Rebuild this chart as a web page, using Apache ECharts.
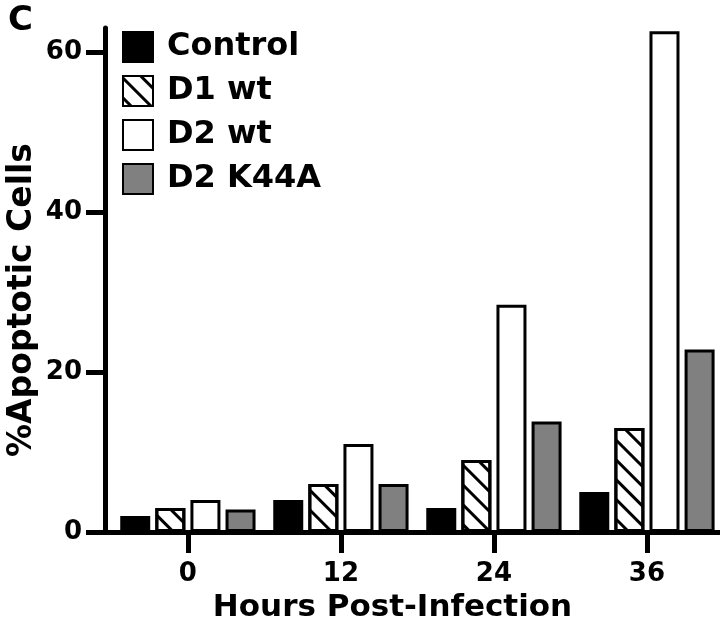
<!DOCTYPE html>
<html>
<head>
<meta charset="utf-8">
<script src="https://cdn.jsdelivr.net/npm/echarts@6/dist/echarts.min.js"></script>
<style>
html,body{margin:0;padding:0;background:#fff;}
#chart{width:720px;height:623px;}
</style>
</head>
<body>
<div id="chart"></div>
<script>
// Data
var hours = [0, 12, 24, 36];
var seriesNames = ['Control', 'D1 wt', 'D2 wt', 'D2 K44A'];
var control = [2, 4, 3, 5];
var d1wt = [3, 6, 9, 13];
var d2wt = [4, 11, 28.4, 62.6];
var d2k44a = [2.8, 6, 13.8, 22.8];
var yTicks = [0, 20, 40, 60];

var FONT = 'DejaVu Sans';
function pairs(vals) { return hours.map(function (h, i) { return [h, vals[i]]; }); }

var base = { borderColor: '#000', borderWidth: 3 };
var styles = [
  Object.assign({ color: '#000' }, base),
  Object.assign({ color: '#fff', decal: { symbol: 'rect', symbolSize: 1, dashArrayX: [1, 0], dashArrayY: [3, 11], rotation: Math.PI / 4, color: '#000' } }, base),
  Object.assign({ color: '#fff' }, base),
  Object.assign({ color: '#808080' }, base)
];
var values = [control, d1wt, d2wt, d2k44a];

var chart = echarts.init(document.getElementById('chart'), null, { renderer: 'canvas' });
chart.setOption({
  animation: false,
  backgroundColor: '#fff',
  title: {
    text: 'C', left: 3, top: -1,
    textStyle: { fontFamily: FONT, fontWeight: 'bold', fontSize: 34, color: '#000' }
  },
  legend: {
    orient: 'vertical', left: 122, top: 31, padding: 0,
    itemWidth: 30, itemHeight: 30, itemGap: 12,
    icon: 'rect',
    data: seriesNames,
    textStyle: { fontFamily: FONT, fontWeight: 'bold', fontSize: 32, color: '#000', padding: [0, 0, 0, 9] }
  },
  grid: { left: 105, right: 0, top: 28, bottom: 91, containLabel: false, outerBoundsMode: 'none' },
  xAxis: {
    type: 'value', min: -6.5, max: 41.73,
    name: 'Hours Post-Infection', nameLocation: 'middle', nameGap: 60,
    nameTextStyle: { fontFamily: FONT, fontWeight: 'bold', fontSize: 31, color: '#000', padding: [0, 40, 0, 0] },
    axisLine: { show: true, onZero: false, lineStyle: { color: '#000', width: 5 } },
    axisTick: { show: true, customValues: hours, length: 21, lineStyle: { color: '#000', width: 5 } },
    axisLabel: { customValues: hours, margin: 29, fontFamily: FONT, fontWeight: 'bold', fontSize: 26, color: '#000' },
    splitLine: { show: false }
  },
  yAxis: {
    type: 'value', min: 0, max: 63,
    name: '%Apoptotic Cells', nameLocation: 'middle', nameGap: 66, nameMoveOverlap: false,
    nameTextStyle: { fontFamily: FONT, fontWeight: 'bold', fontSize: 33, color: '#000', padding: [0, 40, 0, 0] },
    axisLine: { show: true, onZero: false, lineStyle: { color: '#000', width: 5 } },
    axisTick: { show: true, customValues: yTicks, length: 19, lineStyle: { color: '#000', width: 5 } },
    axisLabel: { customValues: yTicks, margin: 23, fontFamily: FONT, fontWeight: 'bold', fontSize: 26, color: '#000' },
    splitLine: { show: false }
  },
  series: seriesNames.map(function (n, i) {
    return {
      name: n, type: 'bar', data: pairs(values[i]),
      barWidth: 30, barGap: '17%', clip: false,
      itemStyle: styles[i]
    };
  })
});
</script>
</body>
</html>
